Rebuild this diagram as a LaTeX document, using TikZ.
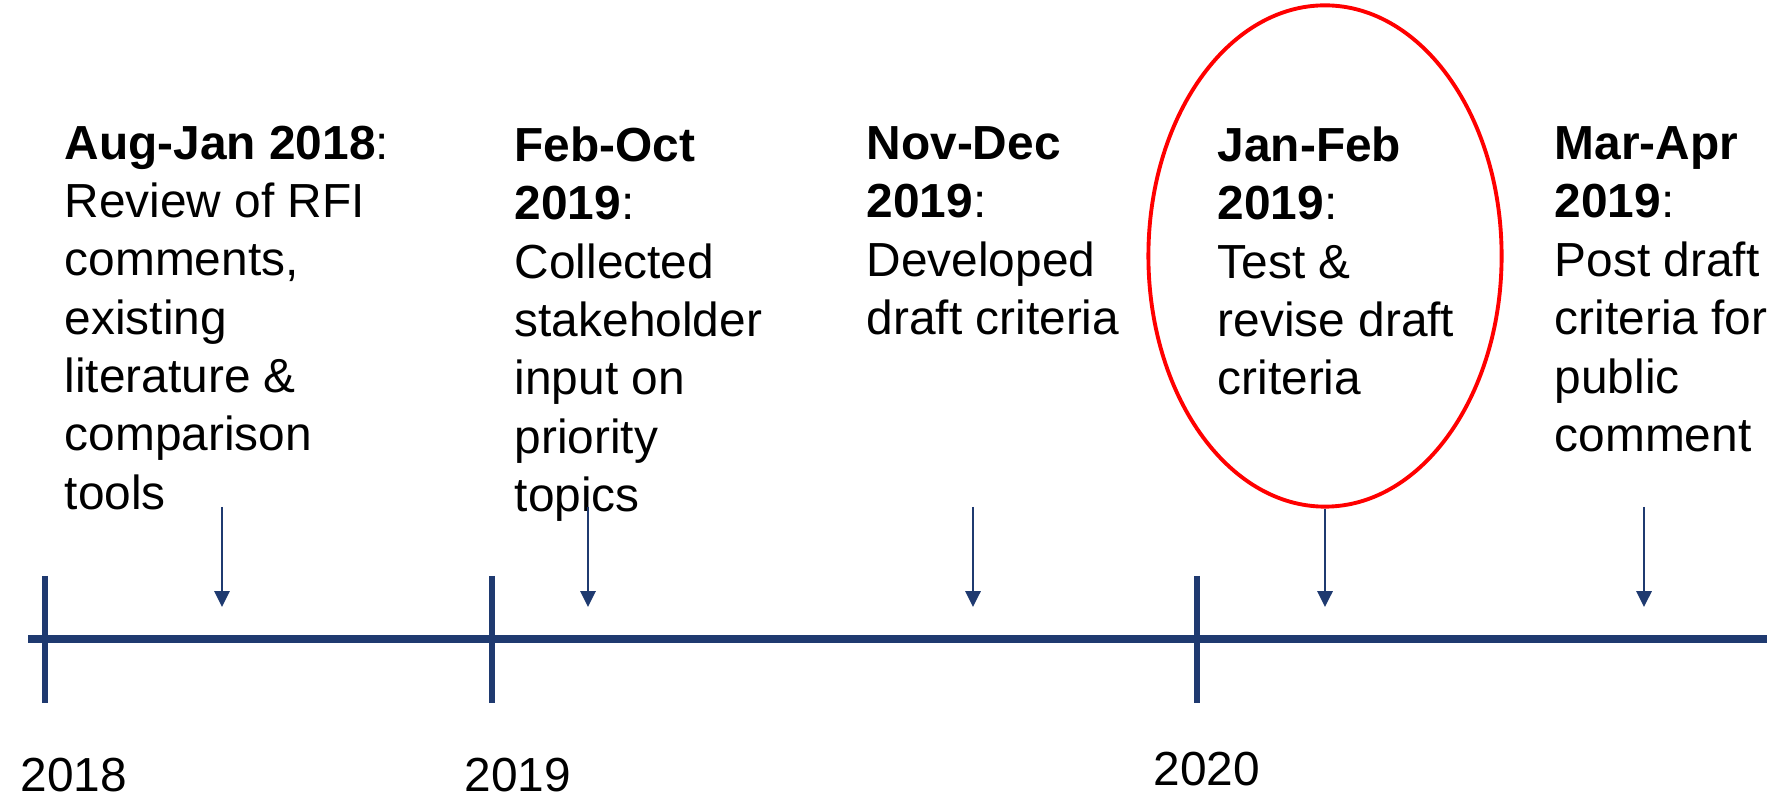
\documentclass[tikz,border=0pt]{standalone}
\usepackage{fontspec}
\setmainfont{Liberation Sans}
\usetikzlibrary{positioning, arrows.meta, shapes.geometric}
\definecolor{linenavy}{RGB}{31,58,112}

\begin{document}
\begin{tikzpicture}[x=0.01cm, y=-0.01cm,
    every node/.style={font=\fontsize{13.6}{16.6}\selectfont, inner sep=0pt},
    phase/.style={align=left, anchor=north west},
    year/.style={anchor=base west},
    yeartick/.style={line width=1.7pt, linenavy},
    pointer/.style={line width=0.7pt, linenavy, -{Triangle[length=4.5pt, width=4.3pt]}}]
    \useasboundingbox (0,0) rectangle (1767,795);
    % Timeline axis
    \coordinate (axisL) at (28,639);
    \coordinate (axisR) at (1800,639);
    \draw [line width=2.4pt, linenavy] (axisL) -- (axisR);
    % Year ticks
    \coordinate (t18top) at (45,576);   \coordinate (t18bot) at (45,703);
    \coordinate (t19top) at (492,576);  \coordinate (t19bot) at (492,703);
    \coordinate (t20top) at (1197,576); \coordinate (t20bot) at (1197,703);
    \draw [yeartick] (t18top) -- (t18bot);
    \draw [yeartick] (t19top) -- (t19bot);
    \draw [yeartick] (t20top) -- (t20bot);
    \node (y18) [year] at (20,791) {2018};
    \node (y19) [year] at (464,791) {2019};
    \node (y20) [year] at (1153,786) {2020};
    % Phases
    \node (augjan) [phase] at (64,125) {\textbf{Aug-Jan 2018}:\\Review of RFI\\comments,\\existing\\literature \&\\comparison\\tools};
    \node (febocT) [phase] at (514,126) {\textbf{Feb-Oct}\\\textbf{2019}:\\Collected\\stakeholder\\input on\\priority\\topics};
    \node (novdec) [phase] at (866,126) {\textbf{Nov-Dec}\\\textbf{2019}:\\Developed\\draft criteria};
    \node (janfeb) [phase] at (1217,126) {\textbf{Jan-Feb}\\\textbf{2019}:\\Test \&\\revise draft\\criteria};
    \node (marapr) [phase] at (1554,126) {\textbf{Mar-Apr}\\\textbf{2019}:\\Post draft\\criteria for\\public\\comment};
    % Highlight around the current phase
    \node (focus) [ellipse, draw=red, line width=1.1pt, minimum width=3.53cm, minimum height=5.01cm] at (1325,256) {};
    % Pointers onto the axis
    \coordinate (p1s) at (222,507);  \coordinate (p1e) at (222,607);
    \coordinate (p2s) at (588,507);  \coordinate (p2e) at (588,607);
    \coordinate (p3s) at (973,507);  \coordinate (p3e) at (973,607);
    \coordinate (p4e) at (focus.south |- p1e);
    \coordinate (p5s) at (1644,507); \coordinate (p5e) at (1644,607);
    \draw [pointer] (p1s) -- (p1e);
    \draw [pointer] (p2s) -- (p2e);
    \draw [pointer] (p3s) -- (p3e);
    \draw [pointer] (focus.south) -- (p4e);
    \draw [pointer] (p5s) -- (p5e);
\end{tikzpicture}
\end{document}
